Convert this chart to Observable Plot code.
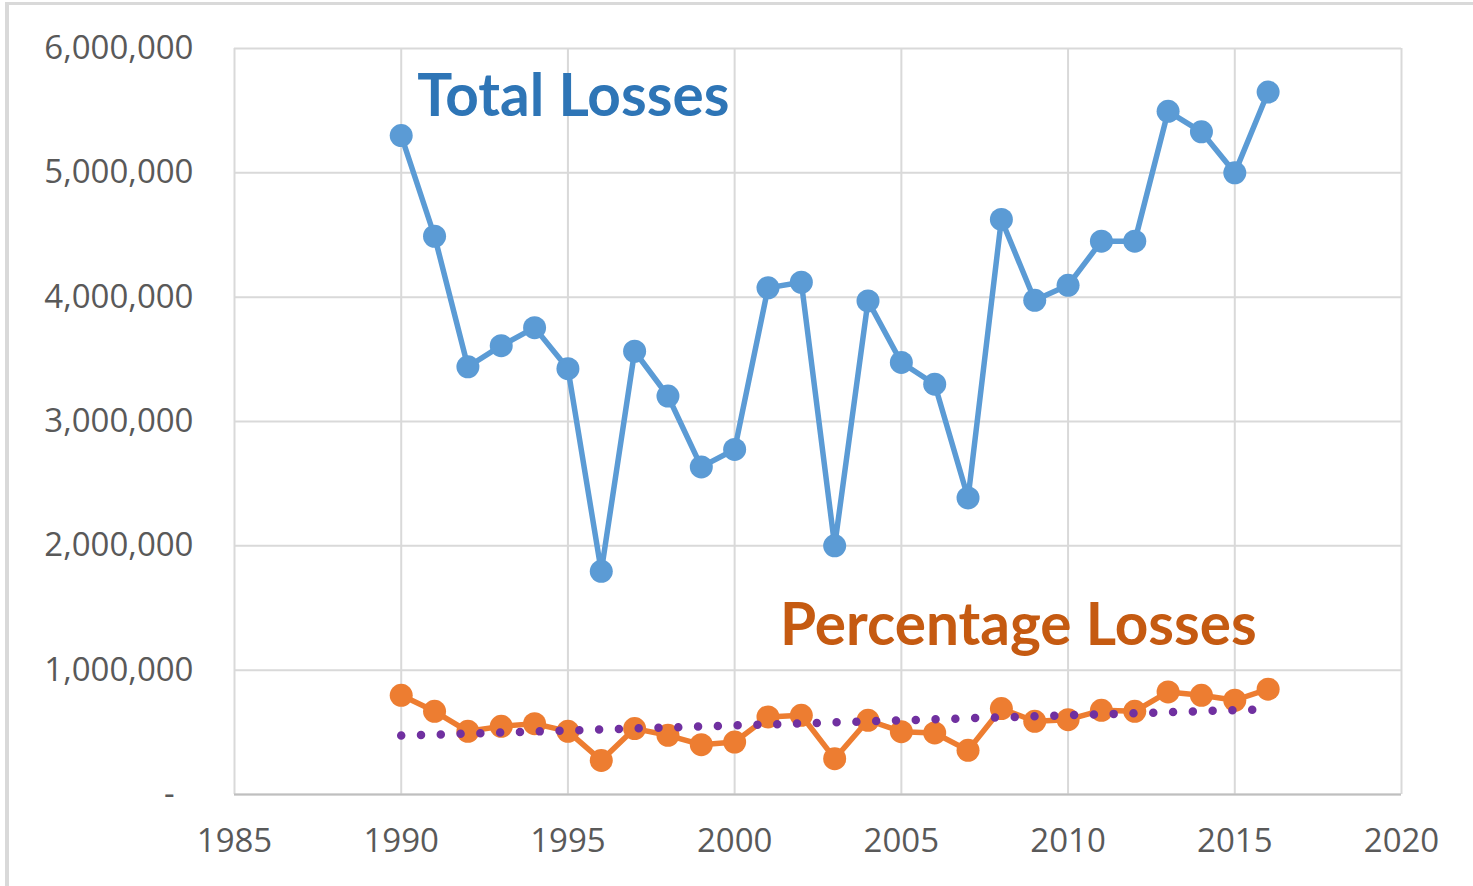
<!DOCTYPE html>
<html>
<head>
<meta charset="utf-8">
<script src="https://cdn.jsdelivr.net/npm/d3@7"></script>
<script src="https://cdn.jsdelivr.net/npm/@observablehq/plot@0.6"></script>
<style>
  html, body { margin: 0; padding: 0; background: #fff; overflow: hidden; }
  #wrap { position: relative; width: 1473px; height: 886px; }
  #frame { position: absolute; left: 5px; top: 2px; width: 1600px; height: 1000px;
           border-top: 3px solid #d9d9d9; border-left: 4px solid #d9d9d9; pointer-events: none; }
  #chart { position: absolute; left: 0; top: 0; }
</style>
</head>
<body>
<div id="wrap"><div id="chart"></div><div id="frame"></div></div>
<script>
const years = [1990,1991,1992,1993,1994,1995,1996,1997,1998,1999,2000,2001,2002,2003,2004,2005,2006,2007,2008,2009,2010,2011,2012,2013,2014,2015,2016];
const totalLosses = [5300000,4490000,3440000,3610000,3755000,3425000,1795000,3565000,3205000,2635000,2775000,4075000,4120000,2000000,3970000,3475000,3300000,2385000,4625000,3975000,4095000,4450000,4450000,5495000,5330000,5000000,5650000];
const percentageLosses = [798000,669000,508000,548000,570000,508000,274000,530000,476000,401000,422000,624000,637000,288000,597000,505000,495000,355000,691000,589000,602000,677000,669000,825000,798000,758000,847000];
const xTicks = [1985,1990,1995,2000,2005,2010,2015,2020];
const yTicks = [0,1000000,2000000,3000000,4000000,5000000,6000000];
const seriesLabels = ["Total Losses", "Percentage Losses"];

const table = years.map((year, i) => ({year, total: totalLosses[i], pct: percentageLosses[i]}));

const fmt = d3.format(",");
const chart = Plot.plot({
  width: 1473,
  height: 886,
  marginLeft: 234,
  marginRight: 72,
  marginTop: 48,
  marginBottom: 92,
  style: {fontFamily: "'Open Sans', sans-serif", fontSize: "33px", color: "#595959", background: "transparent"},
  x: {domain: [1985, 2020], ticks: xTicks, tickFormat: d => String(d), tickSize: 0, tickPadding: 34, label: null},
  y: {domain: [0, 6000000], ticks: yTicks, tickFormat: d => d === 0 ? "-\u2007" : fmt(d), tickSize: 0, tickPadding: 41, label: null},
  marks: [
    Plot.ruleX(xTicks, {stroke: "#d9d9d9", strokeWidth: 2}),
    Plot.ruleY(yTicks, {stroke: "#d9d9d9", strokeWidth: 2}),
    Plot.ruleY([0], {stroke: "#bfbfbf", strokeWidth: 2}),
    Plot.line(table, {x: "year", y: "total", stroke: "#5b9bd5", strokeWidth: 5.5}),
    Plot.dot(table, {x: "year", y: "total", r: 11.5, fill: "#5b9bd5"}),
    Plot.line(table, {x: "year", y: "pct", stroke: "#ed7d31", strokeWidth: 5.5}),
    Plot.dot(table, {x: "year", y: "pct", r: 11.5, fill: "#ed7d31"}),
    Plot.linearRegressionY(table, {x: "year", y: "pct", stroke: "#7030a0", strokeWidth: 8.5, strokeDasharray: "0 19.8", strokeLinecap: "round", ci: 0}),
    Plot.text([seriesLabels[0]], {x: 1990.48, y: 5455000, text: d => d, textAnchor: "start", lineAnchor: "bottom",
      fill: "#2e75b6", fontFamily: "Lato", fontWeight: "bold", fontSize: 58.5}),
    Plot.text([seriesLabels[1]], {x: 2001.36, y: 1199000, text: d => d, textAnchor: "start", lineAnchor: "bottom",
      fill: "#c55a11", fontFamily: "Lato", fontWeight: "bold", fontSize: 58.5})
  ]
});
document.getElementById("chart").appendChild(chart);
</script>
</body>
</html>
